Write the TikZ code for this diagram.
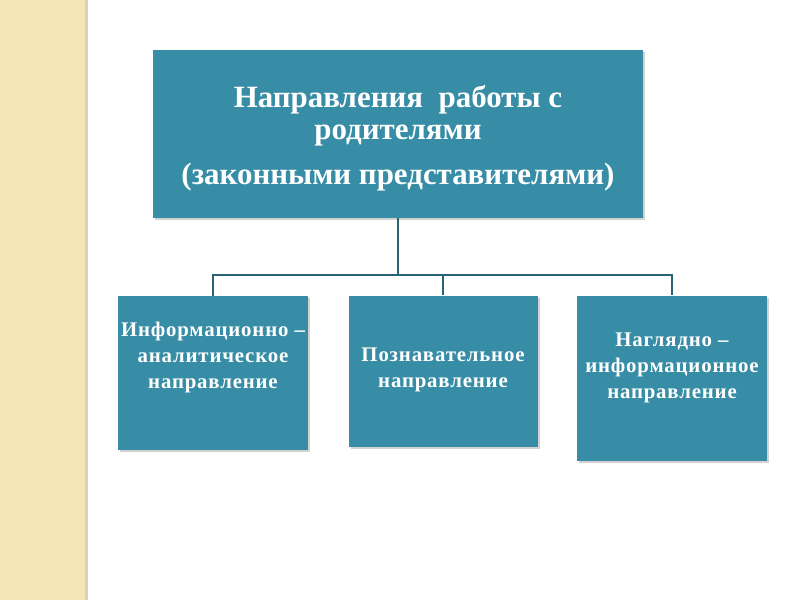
\documentclass[tikz,border=0pt]{standalone}
\usepackage{fontspec}
\setmainfont{Liberation Serif}
\newfontfamily\boxfont[LetterSpace=4]{Liberation Serif}
\usetikzlibrary{shadows}
\definecolor{teal}{RGB}{55,141,166}
\definecolor{linecol}{RGB}{40,100,118}
\definecolor{sand}{RGB}{245,228,181}
\definecolor{sandedge}{RGB}{218,208,180}
\begin{document}
\begin{tikzpicture}[x=0.025cm, y=-0.025cm,
    box/.style={draw=none, fill=teal, rectangle, inner sep=0pt,
        drop shadow={shadow xshift=1.5pt, shadow yshift=-1.5pt, opacity=0.35}},
    boxtext/.style={text=white, align=center, font=\boxfont\bfseries\fontsize{14.8}{18.5}\selectfont},
    toptext/.style={text=white, align=center, font=\bfseries\fontsize{22}{23}\selectfont},
    link/.style={draw=linecol, line width=1.2pt}]
    % page
    \useasboundingbox (0,0) rectangle (800,600);
    \fill[white] (0,0) rectangle (800,600);
    \fill[sand] (0,0) rectangle (88,600);
    \fill[sandedge] (85,0) rectangle (88,600);
    % boxes
    \node[box, minimum width=490*0.025cm, minimum height=168*0.025cm] (top) at (398,134) {};
    \node[toptext] (toplabel) at (398,138) {Направления\ \ работы с\\родителями\\[9pt](законными представителями)};
    \node[box, minimum width=190*0.025cm, minimum height=154*0.025cm] (left) at (213,373) {};
    \node[boxtext] (lefttext) at (213,357) {Информационно –\\аналитическое\\направление};
    \node[box, minimum width=189*0.025cm, minimum height=151*0.025cm] (mid) at (443,371) {};
    \node[boxtext] (midtext) at (443,370) {Познавательное\\направление};
    \node[box, minimum width=190*0.025cm, minimum height=165*0.025cm] (right) at (672,378) {};
    \node[boxtext] (righttext) at (672,368) {Наглядно –\\информационное\\направление};
    % connectors
    \coordinate (fork) at (398,275);
    \draw[link] (top.south) -- (fork);
    \draw[link] (fork) -| (left.north);
    \draw[link] (fork) -| (mid.north);
    \draw[link] (fork) -| (right.north);
\end{tikzpicture}
\end{document}
